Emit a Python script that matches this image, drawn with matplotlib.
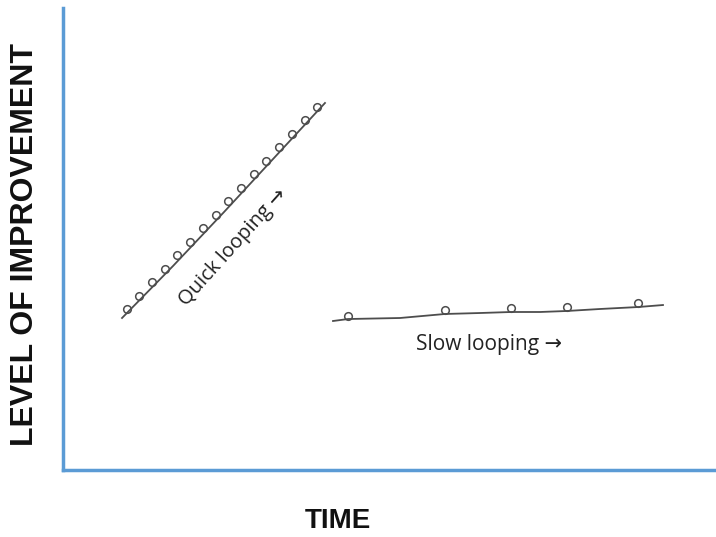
import matplotlib
matplotlib.use("Agg")
import matplotlib.pyplot as plt

# quick looping curve (axes units 0-100)
quick_x = [9.04, 16.85, 24.66, 32.31, 40.12]
quick_y = [32.90, 44.16, 55.84, 67.53, 79.44]
quick_loop_x = [9.74, 11.68, 13.63, 15.59, 17.53, 19.46, 21.42, 23.38,
                25.31, 27.27, 29.23, 31.16, 33.11, 35.07, 37.00, 38.96]
quick_loop_y = [34.83, 37.77, 40.65, 43.59, 46.52, 49.39, 52.34, 55.26,
                58.16, 61.08, 64.02, 66.91, 69.83, 72.77, 75.65, 78.57]

# slow looping curve
slow_x = [41.35, 43.65, 51.61, 58.50, 63.86, 68.61, 73.05, 77.18, 82.24, 88.13, 91.88]
slow_y = [32.25, 32.68, 32.90, 33.77, 33.98, 34.20, 34.20, 34.42, 34.85, 35.28, 35.71]
slow_loop_x = [43.65, 58.50, 68.61, 77.18, 88.13]
slow_loop_y = [33.34, 34.63, 35.07, 35.28, 36.15]

W, H = 716, 537
fig = plt.figure(figsize=(W / 100, H / 100), dpi=100)
ax = fig.add_axes([63 / W, 67 / H, 653 / W, 462 / H])
ax.set_xlim(0, 100)
ax.set_ylim(0, 100)

line_col = "#4d4d4d"
ax.plot(quick_x, quick_y, color=line_col, lw=1.3)
ax.plot(quick_loop_x, quick_loop_y, "o", ms=5.5, mfc="none", mec=line_col, mew=1.1)
ax.plot(slow_x, slow_y, color=line_col, lw=1.3)
ax.plot(slow_loop_x, slow_loop_y, "o", ms=5.5, mfc="none", mec=line_col, mew=1.1)

fam = ["Open Sans", "DejaVu Sans"]
ax.text(26.0, 48.3, "Quick looping \u2192", rotation=48, ha="center", va="center",
        fontsize=14.5, family=fam, color="#222222", rotation_mode="anchor")
ax.text(65.2, 27.1, "Slow looping \u2192", ha="center", va="center",
        fontsize=15, family=fam, color="#222222")

for s in ["top", "right"]:
    ax.spines[s].set_visible(False)
for s in ["left", "bottom"]:
    ax.spines[s].set_color("#5b9bd5")
    ax.spines[s].set_linewidth(2.5)
ax.set_xticks([])
ax.set_yticks([])

fig.text(25 / W, 1 - 245 / H, "LEVEL OF IMPROVEMENT", rotation=90, ha="center", va="center",
         fontsize=23, fontweight="bold", family="Liberation Sans", color="#111111")
fig.text(338 / W, 1 - 521 / H, "TIME", ha="center", va="center",
         fontsize=20, fontweight="bold", family="Liberation Sans", color="#111111")

fig.savefig("out.png", dpi=100)
